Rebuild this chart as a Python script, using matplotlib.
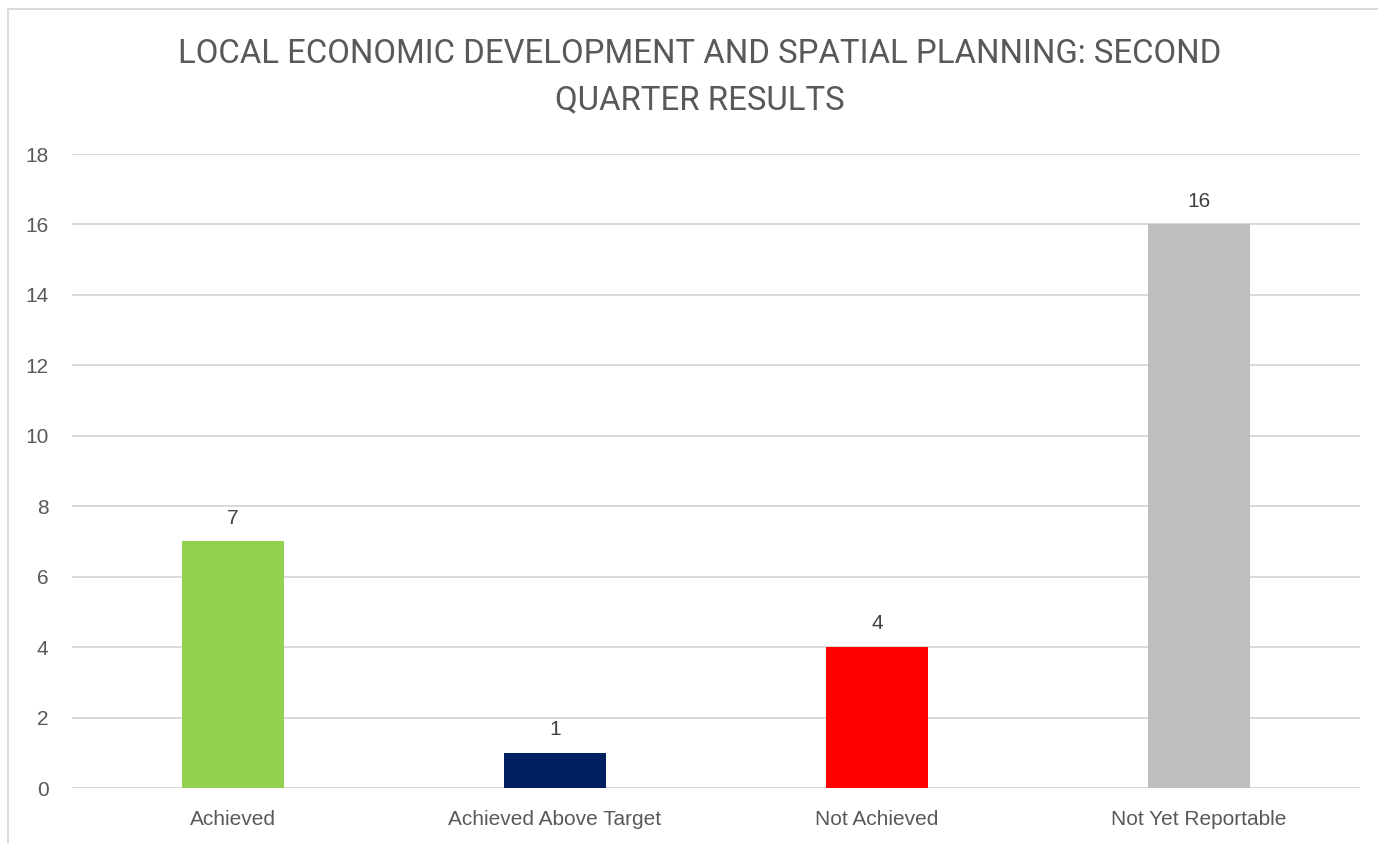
import matplotlib
matplotlib.use("Agg")
import matplotlib.pyplot as plt
from matplotlib.lines import Line2D

categories = ["Achieved", "Achieved Above Target", "Not Achieved", "Not Yet Reportable"]
values = [7, 1, 4, 16]
colors = ["#92D050", "#002060", "#FF0000", "#BFBFBF"]
yticks = [0, 2, 4, 6, 8, 10, 12, 14, 16, 18]
title = "LOCAL ECONOMIC DEVELOPMENT AND SPATIAL PLANNING: SECOND\nQUARTER RESULTS"

plt.rcParams["font.family"] = ["Liberation Sans", "DejaVu Sans"]

W, H = 1378, 843
fig = plt.figure(figsize=(W / 100, H / 100), dpi=100)
ax = fig.add_axes([72 / W, 1 - 788 / H, (1360 - 72) / W, (788 - 154) / H])

x = range(len(categories))
bars = ax.bar(x, values, width=0.314, color=colors, zorder=3)
for b, v in zip(bars, values):
    ax.annotate(str(v), (b.get_x() + b.get_width() / 2, v), xytext=(0, 10),
                textcoords="offset points", ha="center", va="bottom",
                fontsize=15, color="#404040")

ax.set_xlim(-0.5, len(categories) - 0.5)
ax.set_ylim(0, 18)
ax.set_yticks(yticks)
ax.set_xticks(list(x))
ax.set_xticklabels(categories)
ax.tick_params(axis="both", length=0, labelsize=15, labelcolor="#595959")
ax.tick_params(axis="y", pad=17)
ax.tick_params(axis="x", pad=15.5)
ax.grid(axis="y", color="#D9D9D9", linewidth=1.4, zorder=0)
for s in ax.spines.values():
    s.set_visible(False)

fig.text(700 / W, 1 - 77 / H, title, ha="center", va="center", fontsize=23.7,
         color="#595959", linespacing=1.55, family=["Roboto", "DejaVu Sans"])

# chart frame (top and left edges)
fig.add_artist(Line2D([8 / W, 1.0], [1 - 9 / H, 1 - 9 / H], color="#D9D9D9",
                      linewidth=1.4, transform=fig.transFigure))
fig.add_artist(Line2D([8 / W, 8 / W], [0.0, 1 - 9 / H], color="#D9D9D9",
                      linewidth=1.4, transform=fig.transFigure))

fig.savefig("out.png", dpi=100)
